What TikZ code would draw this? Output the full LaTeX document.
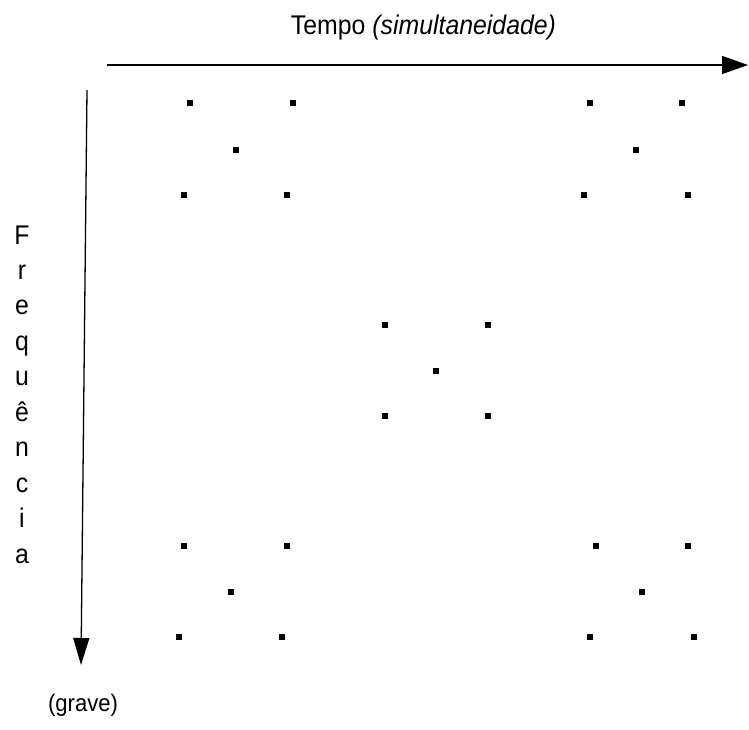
\documentclass[tikz,border=0pt]{standalone}
\usepackage{fontspec}
\setmainfont{Liberation Sans}[FakeStretch=0.92]
\usetikzlibrary{arrows.meta}
\tikzset{
  dot/.style={rectangle, fill=black, inner sep=0pt, minimum size=5.5pt},
  axis/.style={line width=1.3pt},
  lbl/.style={inner sep=0pt, anchor=base, font=\fontsize{27}{30}\selectfont},
  vlbl/.style={inner sep=0pt, anchor=base, font=\fontsize{27}{30}\selectfont},
  small/.style={inner sep=0pt, anchor=base, font=\fontsize{24}{27}\selectfont}
}
\begin{document}
\begin{tikzpicture}[x=1pt,y=-1pt]
\useasboundingbox (0,0) rectangle (749,729);
% axes
\coordinate (hs) at (107,65);
\coordinate (he) at (748,65);
\coordinate (vs) at (87,90);
\coordinate (ve) at (81,665);
\draw[axis, -{Triangle[length=26pt,width=18pt]}] (hs) -- (he);
\draw[axis, -{Triangle[length=27pt,width=16pt]}] (vs) -- (ve);
% labels
\node[lbl] (title) at (423.5,34) {Tempo {\itshape (simultaneidade)}};
\node[vlbl] (f1) at (22,244) {F};
\node[vlbl] (f2) at (22,279.4) {r};
\node[vlbl] (f3) at (22,314.9) {e};
\node[vlbl] (f4) at (22,350.3) {q};
\node[vlbl] (f5) at (22,385.8) {u};
\node[vlbl] (f6) at (22,421.2) {ê};
\node[vlbl] (f7) at (22,456.7) {n};
\node[vlbl] (f8) at (22,492.1) {c};
\node[vlbl] (f9) at (22,527.6) {i};
\node[vlbl] (f10) at (22,563) {a};
\node[small] (grave) at (83,711) {(grave)};
% dots: top-left
\node[dot] (a1) at (190,103) {};
\node[dot] (a2) at (293,103) {};
\node[dot] (a3) at (236,150) {};
\node[dot] (a4) at (184,195) {};
\node[dot] (a5) at (287,195) {};
% top-right
\node[dot] (b1) at (590,103) {};
\node[dot] (b2) at (682,103) {};
\node[dot] (b3) at (636,150) {};
\node[dot] (b4) at (584,195) {};
\node[dot] (b5) at (688,195) {};
% middle
\node[dot] (c1) at (385,325) {};
\node[dot] (c2) at (488,325) {};
\node[dot] (c3) at (436,371) {};
\node[dot] (c4) at (385,416) {};
\node[dot] (c5) at (488,416) {};
% bottom-left
\node[dot] (d1) at (184,546) {};
\node[dot] (d2) at (287,546) {};
\node[dot] (d3) at (231,592) {};
\node[dot] (d4) at (179,637) {};
\node[dot] (d5) at (282,637) {};
% bottom-right
\node[dot] (e1) at (596,546) {};
\node[dot] (e2) at (688,546) {};
\node[dot] (e3) at (642,592) {};
\node[dot] (e4) at (590,637) {};
\node[dot] (e5) at (694,637) {};
\end{tikzpicture}
\end{document}
